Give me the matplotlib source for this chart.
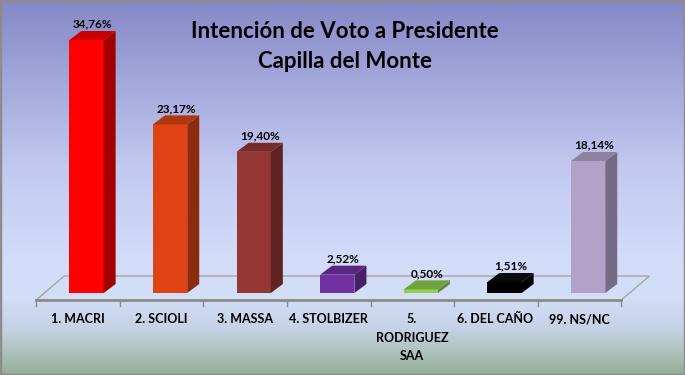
import numpy as np
import matplotlib.pyplot as plt
from matplotlib.patches import Polygon
from matplotlib.transforms import IdentityTransform
from matplotlib.colors import LinearSegmentedColormap

categories = ['1. MACRI', '2. SCIOLI', '3. MASSA', '4. STOLBIZER',
              '5.\nRODRIGUEZ\nSAA', '6. DEL CAÑO', '99. NS/NC']
values = [34.76, 23.17, 19.40, 2.52, 0.50, 1.51, 18.14]
labels = ['34,76%', '23,17%', '19,40%', '2,52%', '0,50%', '1,51%', '18,14%']
front_cols = ['#ff0000', '#df4313', '#953735', '#7030a0', '#92d050', '#000000', '#b3a2c7']
top_cols = ['#c80000', '#b0360f', '#772b2a', '#5a2680', '#70a33e', '#0a0a0a', '#8f829f']
side_cols = ['#a30000', '#8c2b0c', '#5f2322', '#482068', '#5f8c35', '#000000', '#776a87']

W, H = 685, 375
fig = plt.figure(figsize=(W / 100, H / 100), dpi=100)

# background gradient
bg = fig.add_axes([0, 0, 1, 1], zorder=0)
cmap = LinearSegmentedColormap.from_list('bg', [
    (0.0, '#8688c6'), (0.45, '#c3c9f0'), (0.72, '#d4defa'),
    (0.80, '#d2ddf6'), (0.88, '#c4d2e4'), (0.94, '#aec2bc'), (1.0, '#94ae94')])
bg.imshow(np.linspace(0, 1, 256).reshape(-1, 1), aspect='auto', cmap=cmap,
          extent=[0, 1, 0, 1])
bg.set_xlim(0, 1)
bg.set_ylim(0, 1)
bg.axis('off')
bg.add_patch(plt.Rectangle((0, 0), 1, 1, fill=False, ec='#8c8c8c', lw=2.5,
                           transform=bg.transAxes))

# chart axes: bar front plane, pixels measured from the top
left, right, base, top = 44.7, 629.9, 293, 31
ax = fig.add_axes([left / W, 1 - base / H, (right - left) / W, (base - top) / H], zorder=3)
ax.set_xlim(-0.5, 6.5)
ax.set_ylim(0, 36)
ax.axis('off')
ax.patch.set_alpha(0)

x = np.arange(len(values))
w = 0.41
ax.bar(x, values, width=w, color=front_cols, zorder=3)

T = ax.transData
dx, dy = 12, 9  # bar depth in pixels
ident = IdentityTransform()

# floor (drawn in display pixels)
fx0, fy0 = T.transform((-0.5, 0))
fx1, _ = T.transform((6.5, 0))
fl, fd = -8.5, -7   # front edge offset from bar plane
bl, bd = 19.5, 17   # back edge offset
floor_front = [(fx0 + fl, fy0 + fd), (fx1 + fl, fy0 + fd)]
floor_pts = [(fx0 + fl, fy0 + fd), (fx1 + fl, fy0 + fd),
             (fx1 + bl, fy0 + bd), (fx0 + bl, fy0 + bd)]
fig.add_artist(Polygon(floor_pts, closed=True, fc='none', ec='#a6a6a6', lw=1,
                       transform=ident, zorder=2))
fig.add_artist(plt.Line2D([p[0] for p in floor_front], [p[1] for p in floor_front],
                          color='#8c8c8c', lw=2, transform=ident, zorder=2))
for i in range(len(values) + 1):
    tx, _ = T.transform((i - 0.5, 0))
    fig.add_artist(plt.Line2D([tx + fl, tx + fl], [fy0 + fd, fy0 + fd - 6],
                              color='#8c8c8c', lw=1, transform=ident, zorder=2))

for i, v in enumerate(values):
    xl, yb = T.transform((i - w / 2, 0))
    xr, yt = T.transform((i + w / 2, v))
    side = [(xr, yb), (xr + dx, yb + dy), (xr + dx, yt + dy), (xr, yt)]
    topf = [(xl, yt), (xr, yt), (xr + dx, yt + dy), (xl + dx, yt + dy)]
    fig.add_artist(Polygon(side, closed=True, fc=side_cols[i], ec='none',
                           transform=ident, zorder=4))
    fig.add_artist(Polygon(topf, closed=True, fc=top_cols[i], ec='none',
                           transform=ident, zorder=4))
    fig.text((xl + xr + dx) / 2 / W, (yt + dy + 1.5) / H, labels[i],
             ha='center', va='bottom', fontsize=8.5, fontweight='bold',
             family='Lato', zorder=5)
    # category label
    cx, _ = T.transform((i, 0))
    fig.text((cx - 9) / W, 1 - 313 / H, categories[i], ha='center', va='top',
             fontsize=9, fontweight='bold', family='Lato', linespacing=1.65)

fig.text(345 / W, 1 - 31 / H, 'Intención de Voto a Presidente', ha='center',
         va='center', fontsize=16, fontweight='bold', family='Lato')
fig.text(345 / W, 1 - 62 / H, 'Capilla del Monte', ha='center',
         va='center', fontsize=16, fontweight='bold', family='Lato')

fig.savefig('out.png', dpi=100)
